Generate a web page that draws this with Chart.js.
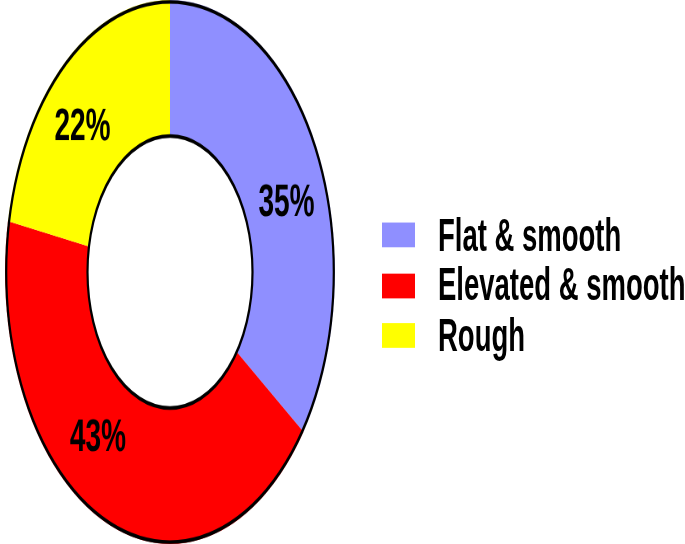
<!DOCTYPE html>
<html>
<head>
<meta charset="utf-8">
<script src="https://cdn.jsdelivr.net/npm/chart.js@4"></script>
<style>
  html, body { margin: 0; padding: 0; background: #fff; }
  body { width: 685px; height: 544px; overflow: hidden; position: relative; }
  /* the original pie is an ellipse: draw it round and stretch it */
  #stage { position: absolute; left: 0; top: 0; width: 685px; height: 330px; transform-origin: 0 0; transform: scaleY(1.6485); }
  #chartBox { position: absolute; left: 0; top: 0; width: 340px; height: 330px; }
  #legend { position: absolute; left: 382px; top: 127.5px; font-family: "Liberation Sans", Arial, sans-serif; font-weight: bold; font-size: 27.5px; color: #000; }
  .item { height: 30.5px; display: flex; align-items: center; white-space: nowrap; }
  .box { width: 33px; height: 15px; margin-right: 23px; flex: none; }
</style>
</head>
<body>
<div id="stage">
  <div id="chartBox"><canvas id="pie" width="340" height="330"></canvas></div>
  <div id="legend"></div>
</div>
<script>
const labels = ["Flat & smooth", "Elevated & smooth", "Rough"];
const values = [35, 43, 22];
const colors = ["#8F8FFF", "#FF0000", "#FFFF00"];

const total = values.reduce((a, b) => a + b, 0);
const stretch = 1.6485;

// angle as seen after the vertical stretch
function seenAngle(t) {
    return Math.atan2(Math.sin(t) * stretch, Math.cos(t));
}
function unseenAngle(a) {
    return Math.atan2(Math.sin(a) / stretch, Math.cos(a));
}

// percent labels on each ring piece + black ring outlines
const ringExtras = {
    id: "ringExtras",
    afterDatasetsDraw(chart) {
        const ctx = chart.ctx;
        const arcs = chart.getDatasetMeta(0).data;
        if (!arcs.length) return;

        const p = arcs[0].getProps(["x", "y", "innerRadius", "outerRadius"], true);
        ctx.save();
        ctx.strokeStyle = "#000";
        ctx.lineWidth = 2.2;
        ctx.beginPath();
        ctx.arc(p.x, p.y, p.outerRadius - 1.2, 0, Math.PI * 2);
        ctx.stroke();
        ctx.beginPath();
        ctx.arc(p.x, p.y, p.innerRadius, 0, Math.PI * 2);
        ctx.stroke();

        ctx.fillStyle = "#000";
        ctx.font = "bold 28px 'Liberation Sans Narrow', 'Liberation Sans', Arial, sans-serif";
        ctx.textAlign = "center";
        ctx.textBaseline = "middle";
        arcs.forEach((arc, i) => {
            const a = arc.getProps(["x", "y", "startAngle", "endAngle", "innerRadius", "outerRadius"], true);
            const mid = (a.startAngle + a.endAngle) / 2;
            // midpoint of the stretched slice, mixed with the plain midpoint
            let s0 = seenAngle(a.startAngle), s1 = seenAngle(a.endAngle);
            while (s1 < s0) s1 += Math.PI * 2;
            let seenMid = unseenAngle((s0 + s1) / 2);
            while (seenMid < mid - Math.PI) seenMid += Math.PI * 2;
            while (seenMid > mid + Math.PI) seenMid -= Math.PI * 2;
            const ang = (mid + seenMid) / 2;
            const r = (a.innerRadius + a.outerRadius) / 2;
            const pct = Math.round(values[i] / total * 100) + "%";
            ctx.fillText(pct, a.x + Math.cos(ang) * r, a.y + Math.sin(ang) * r);
        });
        ctx.restore();
    }
};

new Chart(document.getElementById("pie"), {
    type: "doughnut",
    data: {
        labels: labels,
        datasets: [{
            data: values,
            backgroundColor: colors,
            borderWidth: 0
        }]
    },
    options: {
        responsive: false,
        animation: false,
        devicePixelRatio: 2,
        cutout: "50%",
        layout: { padding: 0 },
        plugins: {
            legend: { display: false },
            tooltip: { enabled: false }
        }
    },
    plugins: [ringExtras]
});

// legend
const legend = document.getElementById("legend");
labels.forEach((name, i) => {
    const row = document.createElement("div");
    row.className = "item";
    const box = document.createElement("span");
    box.className = "box";
    box.style.background = colors[i];
    const txt = document.createElement("span");
    txt.textContent = name;
    row.appendChild(box);
    row.appendChild(txt);
    legend.appendChild(row);
});
</script>
</body>
</html>
